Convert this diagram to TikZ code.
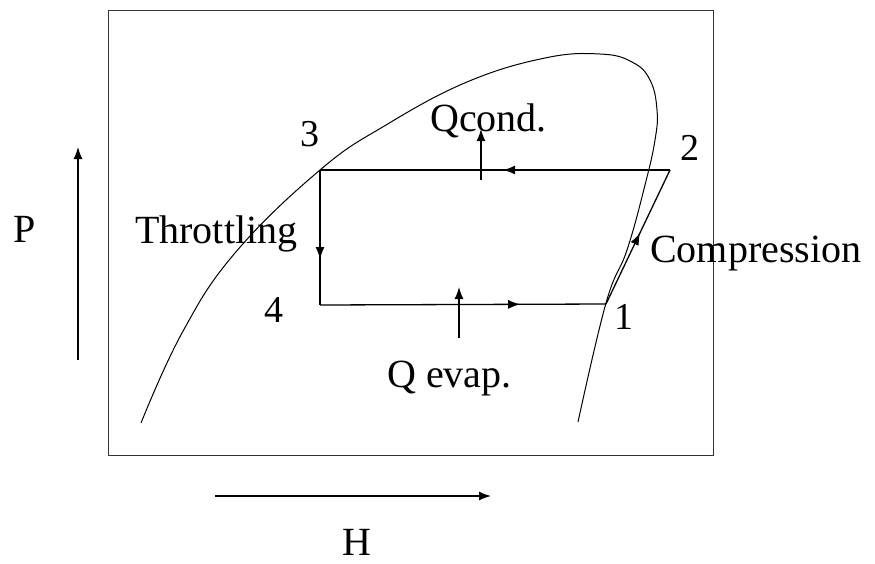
\documentclass[tikz,border=0pt]{standalone}
\usepackage{fontspec}
\setmainfont{Liberation Serif}
\usetikzlibrary{arrows.meta,decorations.markings}
\tikzset{
  ln/.style={line width=1.3pt,black},
  thin/.style={line width=1pt,black},
  tip/.style={-{Latex[length=12pt,width=9pt]}},
  midarr/.style={postaction={decorate,decoration={markings,
     mark=at position #1 with {\arrow{Latex[length=12pt,width=9pt]}}}}},
  lbl/.style={font=\fontsize{40}{44}\selectfont,inner sep=0pt,anchor=base west},
  dig/.style={font=\fontsize{38}{42}\selectfont,inner sep=0pt,anchor=base west},
}
\begin{document}
\begin{tikzpicture}[x=1pt,y=-1pt]
\useasboundingbox (0,0) rectangle (875,563);
% frame
\draw[thin,draw=black!80] (108,10) rectangle (713,455);
% saturation dome
\draw[thin] plot[smooth,tension=0.7] coordinates {
 (141,423) (182,333) (235,253) (320,170) (386,125) (467,82) (545,58)
 (600,54) (632,62) (650,80) (657,110) (655,140) (645,185) (627,250) (606,303) (578,422)};
% cycle corners
\coordinate (p3) at (320,170);
\coordinate (p2) at (670,170);
\coordinate (p1) at (606,304);
\coordinate (p4) at (320,305);
\draw[ln,midarr=0.477] (p2) -- (p3);
\draw[ln,midarr=0.66] (p3) -- (p4);
\draw[ln,midarr=0.70] (p4) -- (p1);
\draw[ln,midarr=0.53] (p1) -- (p2);
% heat arrows
\coordinate (qc0) at (481,180);
\coordinate (qc1) at (481,129);
\draw[ln,tip] (qc0) -- (qc1);
\coordinate (qe0) at (459,338);
\coordinate (qe1) at (459,287);
\draw[ln,tip] (qe0) -- (qe1);
% axes arrows
\coordinate (pa0) at (78,360);
\coordinate (pa1) at (78,147);
\draw[ln,tip] (pa0) -- (pa1);
\coordinate (ha0) at (215,496);
\coordinate (ha1) at (491,496);
\draw[ln,tip] (ha0) -- (ha1);
% labels
\node[lbl] (tP) at (13,242) {P};
\node[lbl] (tH) at (342,555) {H};
\node[lbl] (tthr) at (135,243) {Throttling};
\node[lbl] (tqc) at (430,131) {Qcond.};
\node[lbl] (tcomp) at (650,262) {Compression};
\node[lbl] (tqe) at (387,387) {Q evap.};
\node[dig] (n3) at (300,146) {3};
\node[dig] (n2) at (680,160) {2};
\node[dig] (n4) at (264,322) {4};
\node[dig] (n1) at (614,329) {1};
\end{tikzpicture}
\end{document}
